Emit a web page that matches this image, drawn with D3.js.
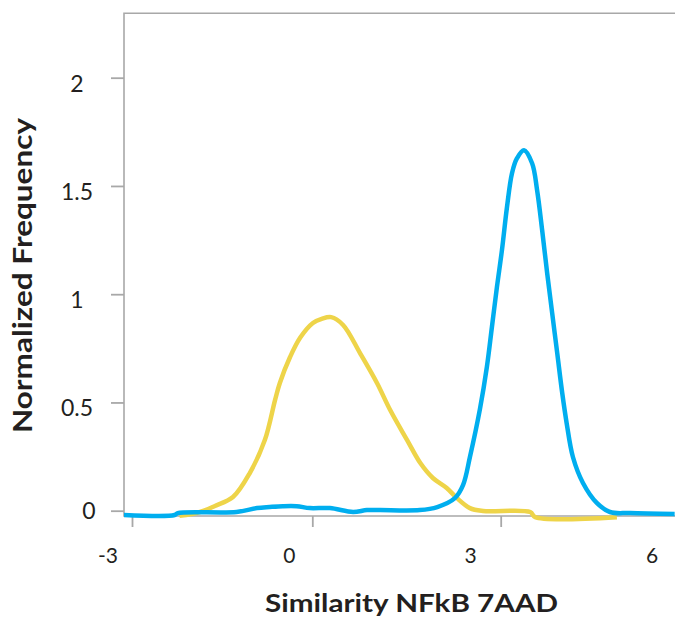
<!DOCTYPE html>
<html>
<head>
<meta charset="utf-8">
<script src="https://cdn.jsdelivr.net/npm/d3@7"></script>
<style>
  html, body { margin: 0; padding: 0; background: #fff; }
  svg { display: block; }
</style>
</head>
<body>
<svg id="chart" width="675" height="617"></svg>
<script>
// ---- data ----
const xTickValues = [-3, 0, 3, 6];
const xTickLabels = ["-3", "0", "3", "6"];
const yTickValues = [0, 0.5, 1, 1.5, 2];
const yTickLabels = ["0", "0.5", "1", "1.5", "2"];

const yellowX = [-2.21, -1.87, -1.62, -1.32, -1.04, -0.79, -0.62, -0.54, -0.37, -0.20, 0.01, 0.15, 0.30, 0.49, 0.76, 1.03, 1.24, 1.51, 1.72, 1.92, 2.14, 2.30, 2.51, 2.72, 3.47, 3.55, 4.85];
const yellowY = [-0.024, -0.006, 0.022, 0.063, 0.174, 0.326, 0.511, 0.590, 0.710, 0.800, 0.867, 0.886, 0.894, 0.858, 0.728, 0.590, 0.465, 0.326, 0.220, 0.151, 0.105, 0.059, 0.012, -0.001, -0.006, -0.030, -0.030];

const blueX = [-3.14, -2.29, -2.24, -1.26, -0.92, -0.71, -0.49, -0.26, -0.04, 0.28, 0.65, 0.87, 1.08, 1.71, 1.99, 2.27, 2.40, 2.51, 2.67, 2.78, 2.86, 2.94, 3.02, 3.10, 3.18, 3.26, 3.37, 3.50, 3.58, 3.66, 3.74, 3.82, 3.90, 3.98, 4.05, 4.15, 4.31, 4.53, 4.74, 5.06, 5.77];
const blueY = [-0.020, -0.020, -0.011, -0.006, 0.012, 0.017, 0.021, 0.021, 0.012, 0.012, -0.006, 0.003, 0.003, 0.003, 0.017, 0.058, 0.118, 0.248, 0.470, 0.664, 0.848, 1.033, 1.204, 1.402, 1.559, 1.628, 1.665, 1.605, 1.480, 1.296, 1.097, 0.912, 0.728, 0.543, 0.405, 0.248, 0.128, 0.036, -0.006, -0.011, -0.015];

const xTitle = "Similarity NFkB 7AAD";
const yTitle = "Normalized Frequency";

// ---- layout ----
const svg = d3.select("#chart");
const plotLeft = 124, plotTop = 13.3, plotBottom = 516, plotRight = 675;
const x = d3.scaleLinear().domain([-3, 0, 3]).range([132, 312.3, 500.7]);
const xLabel = d3.scaleLinear().domain([-3, 6]).range([108, 652]);
const y = d3.scaleLinear().domain([0, 2]).range([510.7, 77.7]);

const axisColor = "#a8a8a8";
const textColor = "#231f20";
const tickFont = "Lato, 'Open Sans', sans-serif";

// frame
svg.append("path")
  .attr("d", `M${plotRight},${plotTop}H${plotLeft}V${plotBottom}H${plotRight}`)
  .attr("fill", "none")
  .attr("stroke", axisColor)
  .attr("stroke-width", 1.6);

// y ticks
const yAxis = svg.append("g")
  .attr("transform", `translate(${plotLeft},0)`)
  .call(d3.axisLeft(y).tickValues(yTickValues).tickSize(13).tickSizeOuter(0).tickFormat(""));
yAxis.select(".domain").remove();
yAxis.selectAll(".tick line").attr("stroke", axisColor).attr("stroke-width", 1.8);

// x ticks
const xAxis = svg.append("g")
  .attr("transform", `translate(0,${plotBottom})`)
  .call(d3.axisBottom(x).tickValues(xTickValues.filter(v => x(v) < plotRight)).tickSize(11).tickSizeOuter(0).tickFormat(""));
xAxis.select(".domain").remove();
xAxis.selectAll(".tick line").attr("stroke", axisColor).attr("stroke-width", 1.8);

// y tick labels
const yNudge = { "0": [12, -6] };
svg.append("g").selectAll("text")
  .data(yTickValues)
  .join("text")
  .attr("x", (d, i) => 77 + (yNudge[yTickLabels[i]] ? yNudge[yTickLabels[i]][0] : 0))
  .attr("y", (d, i) => y(d) + 14 + (yNudge[yTickLabels[i]] ? yNudge[yTickLabels[i]][1] : 0))
  .attr("text-anchor", "middle")
  .attr("font-family", tickFont)
  .attr("font-weight", 400)
  .attr("font-size", 23)
  .attr("fill", textColor)
  .text((d, i) => yTickLabels[i]);

// x tick labels
svg.append("g").selectAll("text")
  .data(xTickValues)
  .join("text")
  .attr("x", d => xLabel(d))
  .attr("y", 563)
  .attr("text-anchor", "middle")
  .attr("font-family", tickFont)
  .attr("font-weight", 400)
  .attr("font-size", 21)
  .attr("fill", textColor)
  .text((d, i) => xTickLabels[i]);

// titles
svg.append("text")
  .attr("x", 411.5)
  .attr("y", 612)
  .attr("text-anchor", "middle")
  .attr("font-family", "Lato, sans-serif")
  .attr("font-weight", 700)
  .attr("font-size", 24)
  .attr("fill", textColor)
  .attr("textLength", 293)
  .attr("lengthAdjust", "spacingAndGlyphs")
  .text(xTitle);

svg.append("text")
  .attr("transform", "translate(32,275.5) rotate(-90)")
  .attr("text-anchor", "middle")
  .attr("font-family", "Lato, sans-serif")
  .attr("font-weight", 700)
  .attr("font-size", 27)
  .attr("fill", textColor)
  .attr("textLength", 315)
  .attr("lengthAdjust", "spacingAndGlyphs")
  .text(yTitle);

// clip
svg.append("clipPath").attr("id", "plotclip")
  .append("rect").attr("x", plotLeft).attr("y", plotTop).attr("width", plotRight - plotLeft).attr("height", 530 - plotTop);

const line = d3.line().x(d => x(d[0])).y(d => y(d[1])).curve(d3.curveCatmullRom.alpha(0.5));
const plot = svg.append("g").attr("clip-path", "url(#plotclip)");

plot.append("path")
  .datum(yellowX.map((v, i) => [v, yellowY[i]]))
  .attr("d", line)
  .attr("fill", "none")
  .attr("stroke", "#eed449")
  .attr("stroke-width", 4.5)
  .attr("stroke-linejoin", "round");

plot.append("path")
  .datum(blueX.map((v, i) => [v, blueY[i]]))
  .attr("d", line)
  .attr("fill", "none")
  .attr("stroke", "#00aeef")
  .attr("stroke-width", 4.5)
  .attr("stroke-linejoin", "round");
</script>
</body>
</html>
